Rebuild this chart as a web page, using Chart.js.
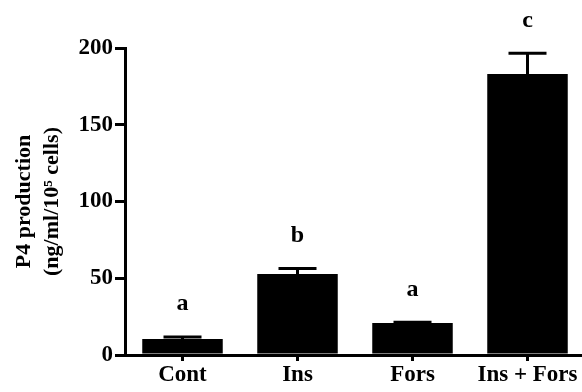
<!DOCTYPE html>
<html>
<head>
<meta charset="utf-8">
<script src="https://cdn.jsdelivr.net/npm/chart.js@4/dist/chart.umd.min.js"></script>
<style>
    html, body { margin: 0; padding: 0; background: #fff; overflow: hidden; }
    #chartP4 { display: block; }
</style>
</head>
<body>
<canvas id="chartP4" width="590" height="392"></canvas>
<script>
// data
const categorias = ['Cont', 'Ins', 'Fors', 'Ins + Fors'];
const valores = [10.4, 52.7, 20.8, 183.1];
const errores = [1.3, 3.6, 0.5, 13.4];
const letras = ['a', 'b', 'a', 'c'];
const yTicks = [0, 50, 100, 150, 200];
const tituloY = ['P4 production', '(ng/ml/10\u2075 cells)'];

const FUENTE = '"Liberation Serif", "Times New Roman", serif';

// error bars (upper half only) + significance letters
const errorBarsPlugin = {
    id: 'errorBars',
    afterDatasetsDraw(chart) {
        const { ctx, scales: { x, y } } = chart;
        ctx.save();
        ctx.strokeStyle = '#000';
        ctx.fillStyle = '#000';
        ctx.lineWidth = 3;
        ctx.font = 'bold 24px ' + FUENTE;
        ctx.textAlign = 'center';
        ctx.textBaseline = 'middle';
        valores.forEach((v, i) => {
            const cx = x.getPixelForValue(i);
            const yBar = y.getPixelForValue(v);
            const yTop = y.getPixelForValue(v + errores[i]);
            ctx.beginPath();
            ctx.moveTo(cx, yBar);
            ctx.lineTo(cx, yTop);
            ctx.moveTo(cx - 19, yTop);
            ctx.lineTo(cx + 19, yTop);
            ctx.stroke();
            ctx.fillText(letras[i], cx, yTop - 33);
        });
        ctx.restore();
    }
};

new Chart(document.getElementById('chartP4'), {
    type: 'bar',
    data: {
        labels: categorias,
        datasets: [{
            data: valores,
            backgroundColor: '#000',
            borderWidth: 0,
            barPercentage: 0.7,
            categoryPercentage: 1
        }]
    },
    options: {
        responsive: false,
        animation: false,
        devicePixelRatio: 1,
        layout: { padding: { top: 48, right: 5, bottom: 0, left: 0 } },
        plugins: {
            legend: { display: false },
            tooltip: { enabled: false }
        },
        scales: {
            x: {
                offset: true,
                afterFit: s => { s.height = 37; },
                border: { display: true, color: '#000', width: 3 },
                grid: { display: true, drawOnChartArea: false, offset: false, color: '#000', lineWidth: 3, tickLength: 6 },
                ticks: { color: '#000', padding: 0, font: { family: FUENTE, size: 23, weight: 'bold' } }
            },
            y: {
                min: 0,
                max: 200,
                afterFit: s => { s.width = 125; },
                afterBuildTicks: s => { s.ticks = yTicks.map(v => ({ value: v })); },
                border: { display: true, color: '#000', width: 3 },
                grid: { display: true, drawOnChartArea: false, color: '#000', lineWidth: 3, tickLength: 10 },
                ticks: { color: '#000', padding: 2, font: { family: FUENTE, size: 23, weight: 'bold' } },
                title: {
                    display: true,
                    text: tituloY,
                    color: '#000',
                    padding: { top: 11, bottom: 0 },
                    font: { family: FUENTE, size: 22, weight: 'bold', lineHeight: 1.25 }
                }
            }
        }
    },
    plugins: [errorBarsPlugin]
});
</script>
</body>
</html>
